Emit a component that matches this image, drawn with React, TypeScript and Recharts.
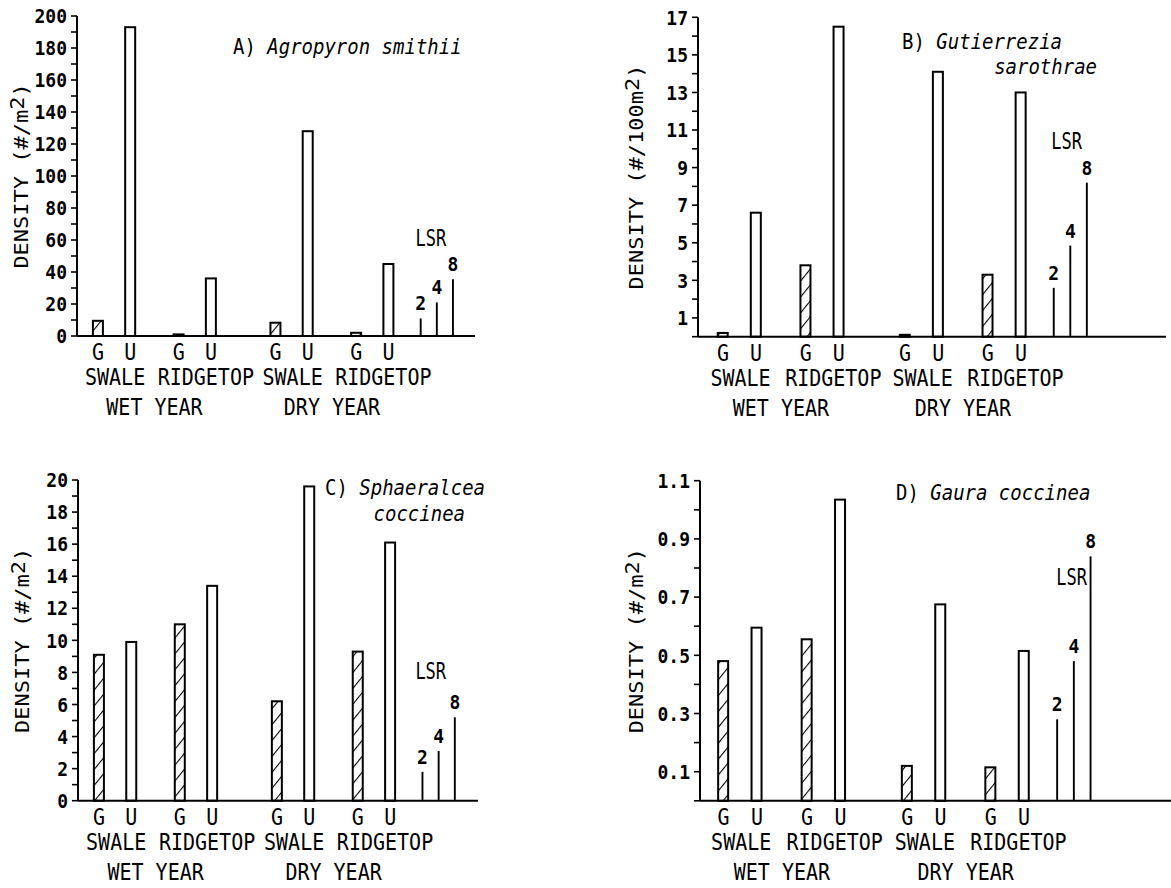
import React from "react";
import { BarChart, Bar, XAxis, YAxis, ReferenceDot, Customized } from "recharts";

// Categories shared by all four panels
const TREATMENTS = ["G", "U"];
const SITES = ["SWALE", "RIDGETOP", "SWALE", "RIDGETOP"];
const YEARS = ["WET YEAR", "DRY YEAR"];
const LSR_LEVELS = ["2", "4", "8"];

// A) Agropyron smithii (#/m2) — wet swale, wet ridgetop, dry swale, dry ridgetop
const agropyronGrazed = [9.5, 1, 8.3, 2];
const agropyronUngrazed = [193, 36, 128, 45];
const agropyronLsr = [11, 21, 35.5];
const agropyronTicks = [0, 10, 20, 30, 40, 50, 60, 70, 80, 90, 100, 110, 120, 130, 140, 150, 160, 170, 180, 190, 200];
const agropyronTickLabels = [0, 20, 40, 60, 80, 100, 120, 140, 160, 180, 200];

// B) Gutierrezia sarothrae (#/100m2)
const gutierreziaGrazed = [0.2, 3.8, 0.1, 3.3];
const gutierreziaUngrazed = [6.6, 16.5, 14.1, 13.0];
const gutierreziaLsr = [2.6, 4.85, 8.2];
const gutierreziaTicks = [0, 1, 2, 3, 4, 5, 6, 7, 8, 9, 10, 11, 12, 13, 14, 15, 16, 17];
const gutierreziaTickLabels = [1, 3, 5, 7, 9, 11, 13, 15, 17];

// C) Sphaeralcea coccinea (#/m2)
const sphaeralceaGrazed = [9.1, 11.0, 6.2, 9.3];
const sphaeralceaUngrazed = [9.9, 13.4, 19.6, 16.1];
const sphaeralceaLsr = [1.8, 3.1, 5.2];
const sphaeralceaTicks = [0, 1, 2, 3, 4, 5, 6, 7, 8, 9, 10, 11, 12, 13, 14, 15, 16, 17, 18, 19, 20];
const sphaeralceaTickLabels = [0, 2, 4, 6, 8, 10, 12, 14, 16, 18, 20];

// D) Gaura coccinea (#/m2)
const gauraGrazed = [0.48, 0.555, 0.12, 0.115];
const gauraUngrazed = [0.595, 1.035, 0.675, 0.515];
const gauraLsr = [0.28, 0.48, 0.84];
const gauraTicks = [0, 0.1, 0.2, 0.3, 0.4, 0.5, 0.6, 0.7, 0.8, 0.9, 1.0, 1.1];
const gauraTickLabels = [0.1, 0.3, 0.5, 0.7, 0.9, 1.1];

// Slot layout along the category axis: G at the pair slot, U two slots right,
// then the three LSR whiskers packed at the end.
const PAIR_SLOTS = [0, 5, 11, 16];
const LSR_SLOTS = [20, 21, 22];
const SLOT_COUNT = 23;
const SITE_DX: Record<string, number> = { SWALE: 1, RIDGETOP: 11 };

const FONT = "'DejaVu Sans Mono', monospace";
const X_AXIS_H = 60;
const Y_AXIS_W = 60;

interface Row {
  key: string;
  value?: number;
  kind?: "G" | "U" | "LSR";
  treatment?: string;
  site?: string;
  year?: string;
  lsr?: string;
}

function buildRows(grazed: number[], ungrazed: number[], lsr: number[]): Row[] {
  const rows: Row[] = Array.from({ length: SLOT_COUNT }, (_, i) => ({ key: `s${i}` }));
  PAIR_SLOTS.forEach((s, i) => {
    rows[s] = {
      key: `s${s}`,
      value: grazed[i],
      kind: "G",
      treatment: TREATMENTS[0],
      site: SITES[i],
      year: i % 2 === 0 ? YEARS[i / 2] : undefined,
    };
    rows[s + 2] = { key: `s${s + 2}`, value: ungrazed[i], kind: "U", treatment: TREATMENTS[1] };
  });
  LSR_SLOTS.forEach((s, i) => {
    rows[s] = { key: `s${s}`, value: lsr[i], kind: "LSR", lsr: LSR_LEVELS[i] };
  });
  return rows;
}

/** Plotter-style lettering: mono font stretched vertically around its baseline. */
function TallText({
  x,
  y,
  children,
  anchor = "middle",
  size = 20,
  weight = "normal",
  stretch = 1.15,
}: {
  x: number;
  y: number;
  children: React.ReactNode;
  anchor?: "start" | "middle" | "end";
  size?: number;
  weight?: string;
  stretch?: number;
}) {
  return (
    <text
      transform={`translate(${x},${y}) scale(1,${stretch})`}
      textAnchor={anchor}
      fontFamily={FONT}
      fontSize={size}
      fontWeight={weight}
      fill="#000"
    >
      {children}
    </text>
  );
}

interface TitleLine {
  x: number;
  y: number;
  anchor: "start" | "end";
  prefix?: string;
  name: string;
}

interface PanelSpec {
  id: string;
  left: number;
  top: number;
  width: number;
  height: number;
  margin: { top: number; right: number; bottom: number; left: number };
  padL: number;
  padR: number;
  grazed: number[];
  ungrazed: number[];
  lsr: number[];
  ticks: number[];
  tickLabels: number[];
  unit: string;
  yTitleDx: number;
  titles: TitleLine[];
  lsrText: { slot: number; y: number; dx: number; anchor: "middle" | "end" };
}

const PANELS: PanelSpec[] = [
  {
    id: "A",
    left: 0,
    top: 0,
    width: 590,
    height: 440,
    margin: { top: 16, right: 115, bottom: 44, left: 17 },
    padL: 12.9,
    padR: 13.9,
    grazed: agropyronGrazed,
    ungrazed: agropyronUngrazed,
    lsr: agropyronLsr,
    ticks: agropyronTicks,
    tickLabels: agropyronTickLabels,
    unit: "#/m",
    yTitleDx: -49,
    titles: [{ x: 233, y: 54, anchor: "start", prefix: "A) ", name: "Agropyron smithii" }],
    lsrText: { slot: 21, y: 61.2, dx: -6, anchor: "middle" },
  },
  {
    id: "B",
    left: 590,
    top: 0,
    width: 581,
    height: 440,
    margin: { top: 17.3, right: 5, bottom: 43.3, left: 48 },
    padL: 16.7,
    padR: 70.6,
    grazed: gutierreziaGrazed,
    ungrazed: gutierreziaUngrazed,
    lsr: gutierreziaLsr,
    ticks: gutierreziaTicks,
    tickLabels: gutierreziaTickLabels,
    unit: "#/100m",
    yTitleDx: -55,
    titles: [
      { x: 312, y: 49, anchor: "start", prefix: "B) ", name: "Gutierrezia" },
      { x: 507, y: 74, anchor: "end", name: "sarothrae" },
    ],
    lsrText: { slot: 21, y: 10.4, dx: -4, anchor: "middle" },
  },
  {
    id: "C",
    left: 0,
    top: 440,
    width: 590,
    height: 448,
    margin: { top: 40, right: 112, bottom: 27.3, left: 18 },
    padL: 12.9,
    padR: 15,
    grazed: sphaeralceaGrazed,
    ungrazed: sphaeralceaUngrazed,
    lsr: sphaeralceaLsr,
    ticks: sphaeralceaTicks,
    tickLabels: sphaeralceaTickLabels,
    unit: "#/m",
    yTitleDx: -49,
    titles: [
      { x: 325, y: 55, anchor: "start", prefix: "C) ", name: "Sphaeralcea" },
      { x: 465, y: 81, anchor: "end", name: "coccinea" },
    ],
    lsrText: { slot: 21, y: 8.1, dx: -8, anchor: "middle" },
  },
  {
    id: "D",
    left: 590,
    top: 440,
    width: 581,
    height: 448,
    margin: { top: 40.7, right: 0, bottom: 27.2, left: 50 },
    padL: 15.15,
    padR: 71.75,
    grazed: gauraGrazed,
    ungrazed: gauraUngrazed,
    lsr: gauraLsr,
    ticks: gauraTicks,
    tickLabels: gauraTickLabels,
    unit: "#/m",
    yTitleDx: -57,
    titles: [{ x: 306, y: 60, anchor: "start", prefix: "D) ", name: "Gaura coccinea" }],
    lsrText: { slot: 22, y: 0.77, dx: -4, anchor: "end" },
  },
];

function barShape(props: any) {
  const { x, y, width, height, payload } = props;
  if (!payload || !payload.kind || !Number.isFinite(height)) return <g />;
  if (payload.kind === "LSR") {
    const cx = x + width / 2;
    return (
      <g>
        <line x1={cx} x2={cx} y1={y} y2={y + height} stroke="#000" strokeWidth={1.9} />
        <TallText x={cx} y={y - 8} size={18} weight="bold" stretch={1.1}>
          {payload.lsr}
        </TallText>
      </g>
    );
  }
  return (
    <rect
      x={x}
      y={y}
      width={width}
      height={height}
      fill={payload.kind === "G" ? "url(#gu-hatch)" : "#fff"}
      stroke="#000"
      strokeWidth={2}
    />
  );
}

function Panel({ spec }: { spec: PanelSpec }) {
  const rows = buildRows(spec.grazed, spec.ungrazed, spec.lsr);
  const plotW = spec.width - spec.margin.left - spec.margin.right - Y_AXIS_W;
  const slot = (plotW - spec.padL - spec.padR) / SLOT_COUNT;
  const domainMax = spec.ticks[spec.ticks.length - 1];

  const xTick = (props: any) => {
    const { x, y, payload } = props;
    const idx = props.index ?? payload?.index;
    const row = rows[idx];
    if (!row) return <g />;
    return (
      <g>
        {row.treatment && (
          <TallText x={x} y={y + 24.4}>
            {row.treatment}
          </TallText>
        )}
        {row.site && (
          <TallText x={x + slot + SITE_DX[row.site]} y={y + 49.4}>
            {row.site}
          </TallText>
        )}
        {row.year && (
          <TallText x={x + 3.5 * slot} y={y + 79.4}>
            {row.year}
          </TallText>
        )}
      </g>
    );
  };

  const yTick = (props: any) => {
    const { x, y, payload } = props;
    if (!spec.tickLabels.includes(payload.value)) return <g />;
    return (
      <TallText x={x} y={y + 7.2} anchor="end" size={18} weight="bold" stretch={1.1}>
        {String(payload.value)}
      </TallText>
    );
  };

  const yTitle = (props: any) => {
    const vb = props.viewBox;
    const cx = vb.x + vb.width + spec.yTitleDx;
    const cy = vb.y + vb.height / 2;
    return (
      <text
        transform={`translate(${cx},${cy}) rotate(-90) scale(1,0.9)`}
        textAnchor="middle"
        fontFamily={FONT}
        fontSize={22}
        fill="#000"
      >
        {`DENSITY  (${spec.unit}`}
        <tspan dy={-4}>2</tspan>
        <tspan dy={4}>)</tspan>
      </text>
    );
  };

  const lsrRow = rows[spec.lsrText.slot];
  const lsrLabel = (props: any) => {
    const vb = props.viewBox;
    const cx = vb.x + (vb.width || 0) / 2 + spec.lsrText.dx;
    const cy = vb.y + (vb.height || 0) / 2;
    return (
      <TallText x={cx} y={cy + 8} anchor={spec.lsrText.anchor} size={17} stretch={1.3}>
        LSR
      </TallText>
    );
  };

  const titles = () => (
    <g>
      {spec.titles.map((t, i) => (
        <text
          key={i}
          transform={`translate(${t.x},${t.y}) scale(1,1.12)`}
          textAnchor={t.anchor}
          fontFamily={FONT}
          fontSize={19}
          fill="#000"
        >
          {t.prefix && <tspan>{t.prefix}</tspan>}
          <tspan fontStyle="italic">{t.name}</tspan>
        </text>
      ))}
    </g>
  );

  return (
    <div style={{ position: "absolute", left: spec.left, top: spec.top }}>
      <BarChart width={spec.width} height={spec.height} data={rows} margin={spec.margin}>
        <XAxis
          dataKey="key"
          type="category"
          interval={0}
          height={X_AXIS_H}
          padding={{ left: spec.padL, right: spec.padR }}
          tickLine={false}
          tickSize={0}
          tickMargin={0}
          axisLine={{ stroke: "#000", strokeWidth: 2 }}
          tick={xTick}
        />
        <YAxis
          type="number"
          domain={[0, domainMax]}
          ticks={spec.ticks}
          interval={0}
          width={Y_AXIS_W}
          tickSize={6}
          tickMargin={4}
          axisLine={{ stroke: "#000", strokeWidth: 2 }}
          tickLine={{ stroke: "#000", strokeWidth: 1.6 }}
          tick={yTick}
          label={{ content: yTitle }}
        />
        <Bar dataKey="value" barSize={10} shape={barShape} isAnimationActive={false} />
        <ReferenceDot
          x={lsrRow.key}
          y={spec.lsrText.y}
          r={0}
          fill="none"
          stroke="none"
          ifOverflow="visible"
          label={{ content: lsrLabel }}
        />
        <Customized component={titles} />
      </BarChart>
    </div>
  );
}

export default function App() {
  return (
    <div
      style={{
        position: "absolute",
        left: 0,
        top: 0,
        width: 1171,
        height: 888,
        background: "#fff",
        overflow: "hidden",
      }}
    >
      <svg width={0} height={0} style={{ position: "absolute" }}>
        <defs>
          <pattern
            id="gu-hatch"
            patternUnits="userSpaceOnUse"
            width={10}
            height={10}
            patternTransform="rotate(39)"
          >
            <rect width={10} height={10} fill="#fff" />
            <line x1={0} y1={0} x2={0} y2={10} stroke="#000" strokeWidth={2.2} />
          </pattern>
        </defs>
      </svg>
      {PANELS.map((p) => (
        <Panel key={p.id} spec={p} />
      ))}
    </div>
  );
}
